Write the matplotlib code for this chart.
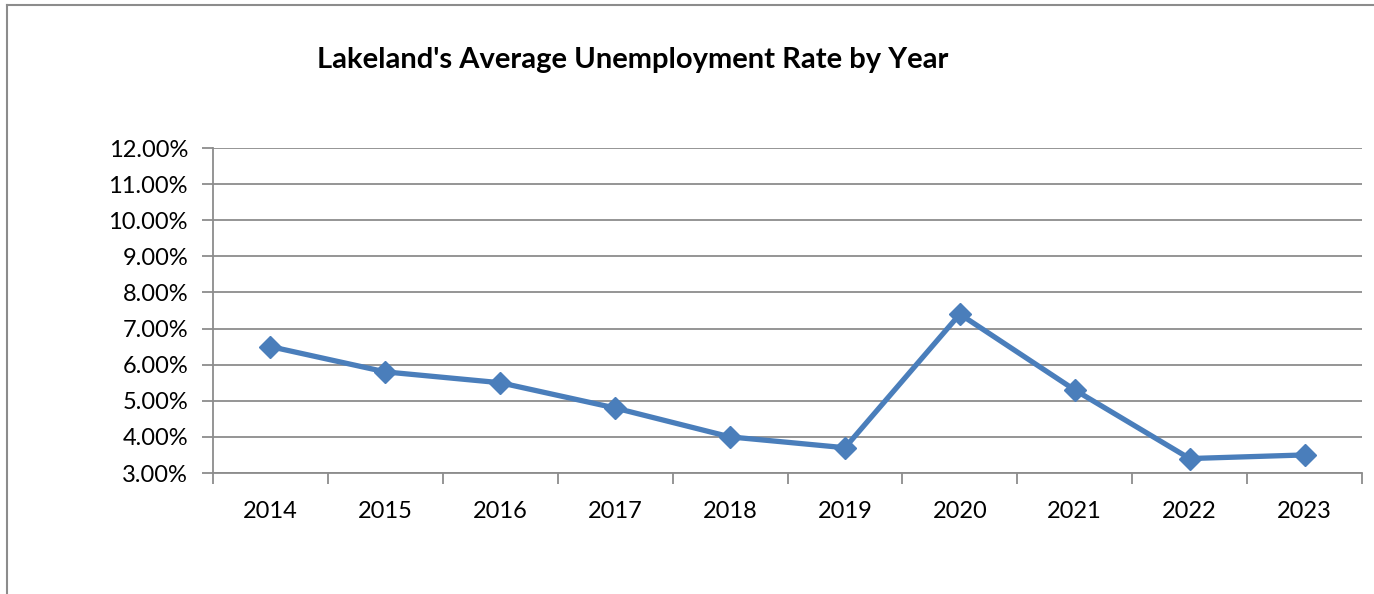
import numpy as np
import matplotlib
matplotlib.use("Agg")
import matplotlib.pyplot as plt
from matplotlib.lines import Line2D
from matplotlib.ticker import FuncFormatter

years = ["2014", "2015", "2016", "2017", "2018", "2019", "2020", "2021", "2022", "2023"]
rates = [6.5, 5.8, 5.5, 4.8, 4.0, 3.7, 7.4, 5.3, 3.4, 3.5]
y_ticks = [3, 4, 5, 6, 7, 8, 9, 10, 11, 12]

plt.rcParams["font.family"] = ["Lato", "DejaVu Sans"]
W, H = 1374, 594
fig = plt.figure(figsize=(W / 100, H / 100), dpi=100)
ax = fig.add_axes([213 / W, 1 - 473 / H, (1362 - 213) / W, (473 - 148) / H])

grid_c = "#8c8c8c"
x = np.arange(len(years))
ax.plot(x, rates, color="#4a7ebb", linewidth=3.8, marker="D", markersize=11,
        markerfacecolor="#4a7ebb", markeredgecolor="#4a7ebb", zorder=3)

ax.set_xlim(-0.5, len(years) - 0.5)
ax.set_ylim(y_ticks[0], y_ticks[-1])
ax.set_yticks(y_ticks)
ax.yaxis.set_major_formatter(FuncFormatter(lambda v, p: "%.2f%%" % v))
ax.grid(axis="y", color=grid_c, linewidth=1.3)
ax.set_axisbelow(True)

# categories sit between tick marks
ax.set_xticks(np.arange(-0.5, len(years)), minor=False)
ax.set_xticklabels([])
ax.set_xticks(x, minor=True)
ax.set_xticklabels(years, minor=True)
ax.tick_params(axis="x", which="major", length=8, width=1.3, color=grid_c, direction="out")
ax.tick_params(axis="x", which="minor", length=0, pad=20, labelsize=17)
ax.tick_params(axis="y", length=8, width=1.3, color=grid_c, labelsize=17, pad=10)

for s in ["top", "right"]:
    ax.spines[s].set_visible(False)
for s in ["left", "bottom"]:
    ax.spines[s].set_color(grid_c)
    ax.spines[s].set_linewidth(1.3)

fig.text(633 / W, 1 - 60 / H, "Lakeland's Average Unemployment Rate by Year",
         ha="center", va="center", fontsize=21, fontweight="bold")

# outer chart border
fig.add_artist(Line2D([7 / W, 7 / W], [0, 1 - 5 / H], color=grid_c, linewidth=1.5))
fig.add_artist(Line2D([7 / W, 1], [1 - 5 / H, 1 - 5 / H], color=grid_c, linewidth=1.5))

fig.savefig("out.png", dpi=100)
